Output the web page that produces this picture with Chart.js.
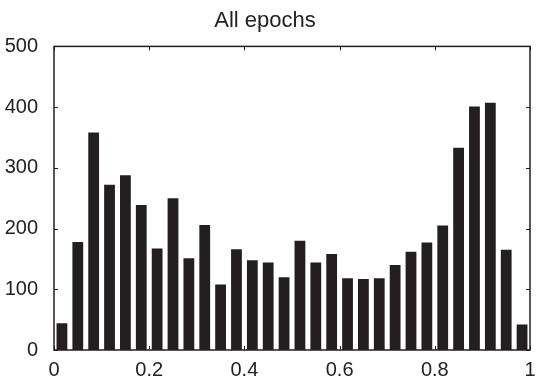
<!DOCTYPE html>
<html>
<head>
<meta charset="utf-8">
<script src="https://cdn.jsdelivr.net/npm/chart.js@4/dist/chart.umd.min.js"></script>
<style>
  html, body { margin: 0; padding: 0; background: #fff; }
  #wrap { width: 536px; height: 380px; }
</style>
</head>
<body>
<div id="wrap"><canvas id="histChart" width="536" height="380"></canvas></div>
<script>
// histogram: 30 equal bins over [0, 1]
const binCount = 30;
const binCenters = Array.from({ length: binCount }, (_, i) => (i + 0.5) / binCount);
const counts = [44, 178, 358, 272, 288, 239, 167, 250, 151, 206,
                108, 166, 148, 144, 120, 180, 144, 158, 118, 117,
                118, 140, 162, 177, 205, 333, 401, 407, 165, 42];
const xTicks = [0, 0.2, 0.4, 0.6, 0.8, 1];
const yTicks = [0, 100, 200, 300, 400, 500];

const ink = '#231f20';
const fontFamily = '"Liberation Sans", Arial, sans-serif';

// MATLAB style box with inward ticks on every side
const boxTicks = {
    id: 'boxTicks',
    afterDraw(chart) {
        const { ctx, chartArea: a, scales } = chart;
        const len = 4;
        ctx.save();
        ctx.strokeStyle = ink;
        ctx.lineWidth = 1;
        ctx.beginPath();
        xTicks.forEach(v => {
            const px = Math.round(scales.x.getPixelForValue(v)) + 0.5;
            ctx.moveTo(px, a.bottom); ctx.lineTo(px, a.bottom - len);
            ctx.moveTo(px, a.top); ctx.lineTo(px, a.top + len);
        });
        yTicks.forEach(v => {
            const py = Math.round(scales.y.getPixelForValue(v)) + 0.5;
            ctx.moveTo(a.left, py); ctx.lineTo(a.left + len, py);
            ctx.moveTo(a.right, py); ctx.lineTo(a.right - len, py);
        });
        ctx.stroke();
        ctx.lineWidth = 1.5;
        ctx.strokeRect(a.left, a.top, a.right - a.left, a.bottom - a.top);
        ctx.restore();
    }
};

new Chart(document.getElementById('histChart'), {
    type: 'bar',
    data: {
        datasets: [{
            data: binCenters.map((x, i) => ({ x: x, y: counts[i] })),
            backgroundColor: ink,
            borderWidth: 0,
            barPercentage: 0.68,
            categoryPercentage: 1
        }]
    },
    options: {
        responsive: false,
        animation: false,
        layout: { padding: { left: 0, right: 6, top: 0, bottom: 0 } },
        plugins: {
            legend: { display: false },
            tooltip: { enabled: false },
            title: {
                display: true,
                text: 'All epochs',
                color: '#222',
                font: { family: fontFamily, size: 22, weight: 'normal' },
                padding: { top: 8, bottom: 12 }
            }
        },
        scales: {
            x: {
                type: 'linear',
                min: 0,
                max: 1,
                offset: false,
                grid: { display: false },
                border: { display: false },
                afterBuildTicks: s => { s.ticks = xTicks.map(v => ({ value: v })); },
                afterFit: s => { s.height = 30; s.paddingLeft = 0; s.paddingRight = 0; },
                ticks: {
                    color: '#222',
                    padding: 0,
                    maxRotation: 0,
                    font: { family: fontFamily, size: 20 },
                    callback: v => String(+v.toFixed(1))
                }
            },
            y: {
                min: 0,
                max: 500,
                grid: { display: false },
                border: { display: false },
                afterBuildTicks: s => { s.ticks = yTicks.map(v => ({ value: v })); },
                afterFit: s => { s.width = 54; s.paddingTop = 0; s.paddingBottom = 0; },
                ticks: {
                    color: '#222',
                    padding: 8,
                    font: { family: fontFamily, size: 20 }
                }
            }
        }
    },
    plugins: [boxTicks]
});
</script>
</body>
</html>
